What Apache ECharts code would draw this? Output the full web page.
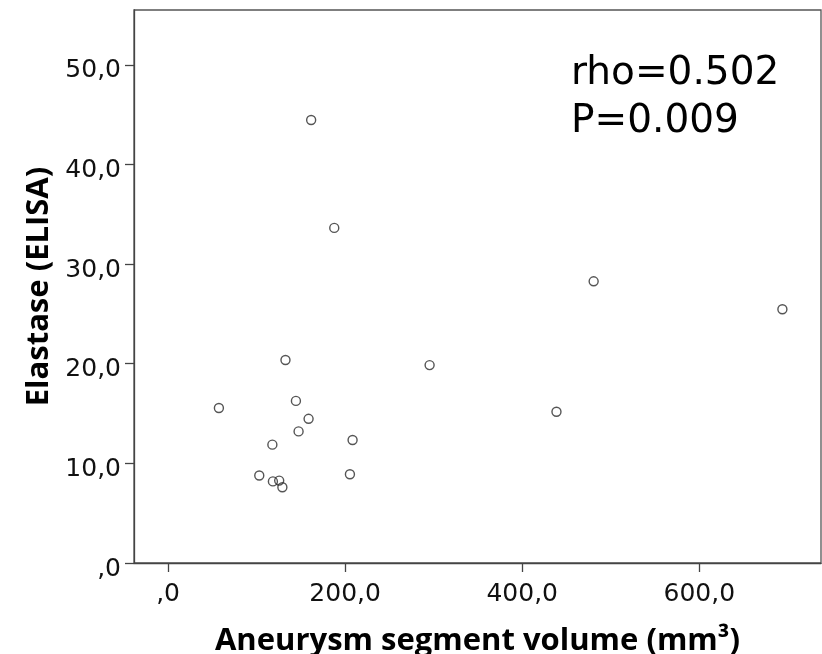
<!DOCTYPE html>
<html>
<head>
<meta charset="utf-8">
<script src="https://cdn.jsdelivr.net/npm/echarts@6/dist/echarts.min.js"></script>
<style>html,body{margin:0;padding:0;background:#fff;}#c{width:822px;height:654px;}</style>
</head>
<body>
<div id="c"></div>
<script>
const volume = [161.6, 187.7, 480.7, 693.9, 132.6, 295.4, 57.4, 144.4, 438.7, 158.7, 147.4, 208.4, 117.8, 103.0, 205.4, 118.4, 125.5, 129.1];
const elastase = [44.46, 33.63, 28.27, 25.47, 20.37, 19.86, 15.56, 16.27, 15.18, 14.47, 13.21, 12.34, 11.88, 8.78, 8.91, 8.19, 8.27, 7.60];
const xTicks = [0, 200, 400, 600];
const yTicks = [0, 10, 20, 30, 40, 50];
const statsText = ['rho=0.502', 'P=0.009'];

const points = volume.map((v, i) => [v, elastase[i]]);
const fmt = v => (v === 0 ? ',0' : v.toFixed(1).replace('.', ','));

const chart = echarts.init(document.getElementById('c'), null, {renderer: 'canvas'});
chart.setOption({
  animation: false,
  backgroundColor: '#fff',
  grid: {left: 134, top: 10, width: 687, height: 553, show: true, borderColor: '#555', borderWidth: 1.3, backgroundColor: 'transparent', containLabel: false, outerBoundsMode: 'none'},
  xAxis: {
    type: 'value', min: -38.5, max: 737.5,
    name: 'Aneurysm segment volume (mm³)', nameLocation: 'middle', nameGap: 63,
    nameTextStyle: {fontFamily: 'Open Sans', fontWeight: 'bold', fontSize: 31, color: '#000'},
    axisLine: {show: true, onZero: false, lineStyle: {color: '#444', width: 1.3}},
    axisTick: {show: true, length: 9, customValues: xTicks, lineStyle: {color: '#444', width: 1.3}},
    axisLabel: {customValues: xTicks, formatter: fmt, margin: 19, fontFamily: 'DejaVu Sans', fontSize: 25, color: '#111'},
    splitLine: {show: false}
  },
  yAxis: {
    type: 'value', min: 0, max: 55.5,
    name: 'Elastase (ELISA)', nameLocation: 'middle', nameGap: 78, nameRotate: 90,
    nameTextStyle: {fontFamily: 'Open Sans', fontWeight: 'bold', fontSize: 31, color: '#000'},
    axisLine: {show: true, onZero: false, lineStyle: {color: '#444', width: 1.3}},
    axisTick: {show: true, length: 9, customValues: yTicks, lineStyle: {color: '#444', width: 1.3}},
    axisLabel: {customValues: yTicks, formatter: fmt, margin: 13, fontFamily: 'DejaVu Sans', fontSize: 25, color: '#111', verticalAlign: 'top', lineHeight: 12},
    splitLine: {show: false}
  },
  graphic: [{
    type: 'text', left: 571, top: 50,
    style: {text: statsText.join('\n'), font: '39px "DejaVu Sans"', lineHeight: 48, fill: '#000'}
  }],
  series: [{
    type: 'scatter', data: points, symbol: 'circle', symbolSize: 9,
    itemStyle: {color: 'rgba(0,0,0,0)', borderColor: '#2a2a2a', borderWidth: 1.4}
  }]
});
</script>
</body>
</html>
